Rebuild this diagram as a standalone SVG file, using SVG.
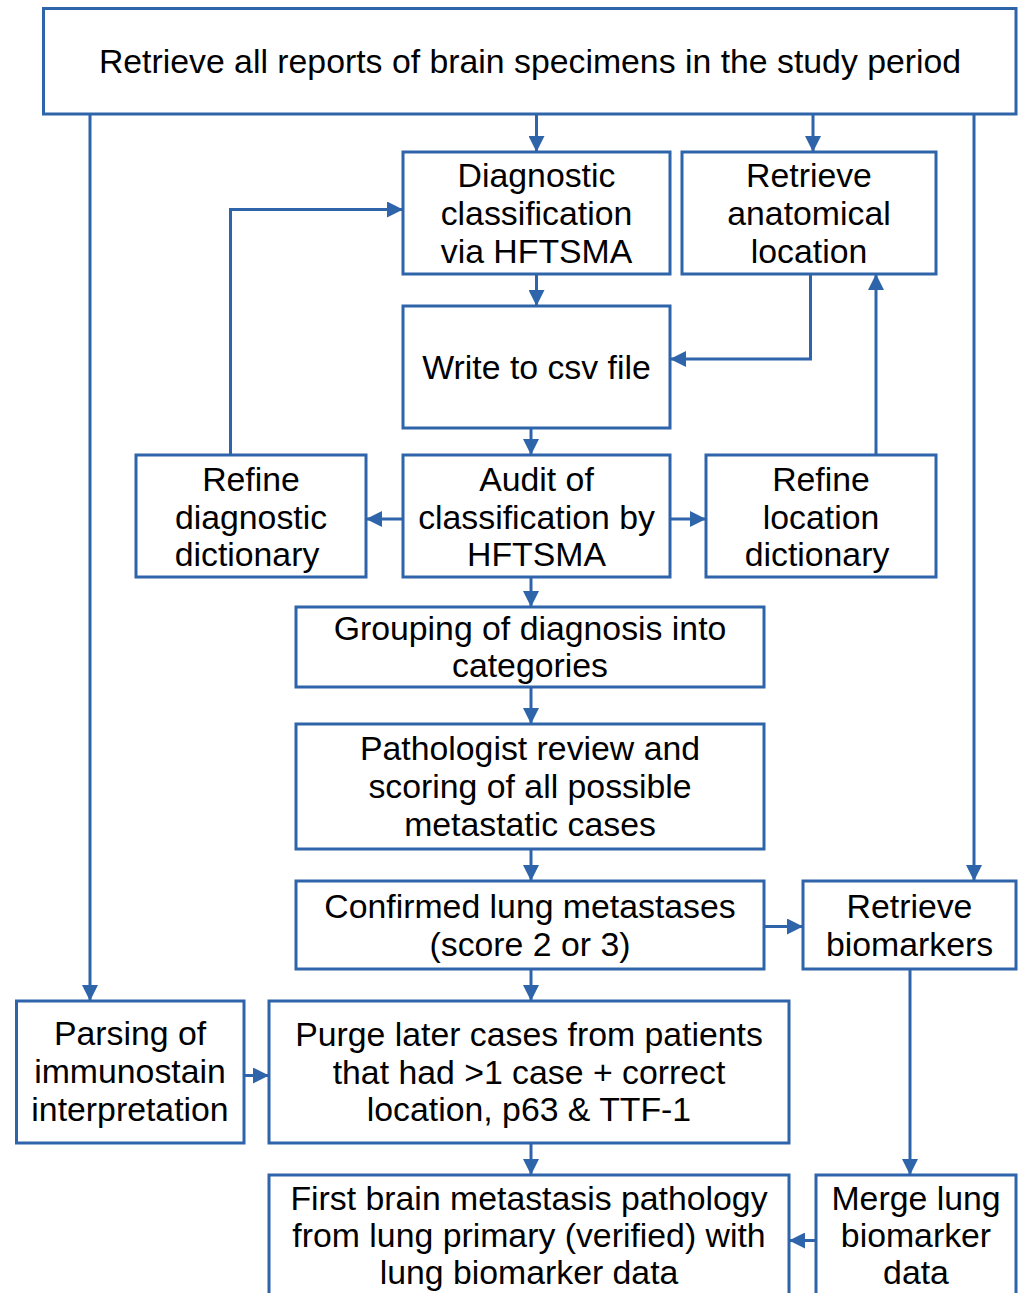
<svg xmlns="http://www.w3.org/2000/svg" width="1023" height="1293" viewBox="0 0 1023 1293">
<style>
.box{fill:#fff;stroke:#2E64AA;stroke-width:3}
.lbl{font-family:"Liberation Sans",Arial,sans-serif;font-size:33.8px;fill:#000;text-anchor:middle}
.con{fill:none;stroke:#2E64AA;stroke-width:3}
.arr{marker-end:url(#ah)}
</style>
<defs>
<marker id="ah" markerUnits="userSpaceOnUse" markerWidth="16" markerHeight="16" refX="16" refY="8" orient="auto">
<path d="M0,0 L16,8 L0,16 z" fill="#2E64AA"/>
</marker>
</defs>
<rect width="1023" height="1293" fill="#fff"/>
<g id="connectors">
<path class="con arr" d="M536.5,114 V152"/>
<path class="con arr" d="M813,114 V152"/>
<path class="con arr" d="M974,114 V881"/>
<path class="con arr" d="M90,114 V1001"/>
<path class="con arr" d="M230.5,455 V209.5 H403"/>
<path class="con arr" d="M536.5,274 V306"/>
<path class="con arr" d="M810.5,274 V359 H670"/>
<path class="con arr" d="M876,455 V274"/>
<path class="con arr" d="M531,428 V455"/>
<path class="con arr" d="M403,519 H366"/>
<path class="con arr" d="M670,519 H706"/>
<path class="con arr" d="M531,577 V607"/>
<path class="con arr" d="M531,687 V724"/>
<path class="con arr" d="M531,849 V881"/>
<path class="con arr" d="M764,926.5 H803"/>
<path class="con arr" d="M531,969 V1001"/>
<path class="con arr" d="M244,1075.5 H269"/>
<path class="con arr" d="M531,1143 V1175"/>
<path class="con arr" d="M910,969 V1175"/>
<path class="con arr" d="M816,1240.5 H789"/>
</g>
<g id="n-retrieve-all">
<rect class="box" x="43.5" y="8.5" width="972.5" height="105.5"/>
<text class="lbl" x="530" y="73">Retrieve all reports of brain specimens in the study period</text>
</g>
<g id="n-diagnostic">
<rect class="box" x="403" y="152" width="267" height="122"/>
<text class="lbl" x="536.5" y="187">Diagnostic</text>
<text class="lbl" x="536.5" y="225">classification</text>
<text class="lbl" x="536.5" y="262.5">via HFTSMA</text>
</g>
<g id="n-anatomical">
<rect class="box" x="682" y="152" width="254" height="122"/>
<text class="lbl" x="809" y="187">Retrieve</text>
<text class="lbl" x="809" y="225">anatomical</text>
<text class="lbl" x="809" y="262.5">location</text>
</g>
<g id="n-write">
<rect class="box" x="403" y="306" width="267" height="122"/>
<text class="lbl" x="536.5" y="379">Write to csv file</text>
</g>
<g id="n-refine-diag">
<rect class="box" x="136" y="455" width="230" height="122"/>
<text class="lbl" x="251" y="491">Refine</text>
<text class="lbl" x="251" y="528.5">diagnostic</text>
<text class="lbl" x="247" y="566">dictionary</text>
</g>
<g id="n-audit">
<rect class="box" x="403" y="455" width="267" height="122"/>
<text class="lbl" x="536.5" y="491">Audit of</text>
<text class="lbl" x="536.5" y="528.5">classification by</text>
<text class="lbl" x="536.5" y="566">HFTSMA</text>
</g>
<g id="n-refine-loc">
<rect class="box" x="706" y="455" width="230" height="122"/>
<text class="lbl" x="821" y="491">Refine</text>
<text class="lbl" x="821" y="528.5">location</text>
<text class="lbl" x="817" y="566">dictionary</text>
</g>
<g id="n-grouping">
<rect class="box" x="296" y="607" width="468" height="80"/>
<text class="lbl" x="530" y="640">Grouping of diagnosis into</text>
<text class="lbl" x="530" y="677">categories</text>
</g>
<g id="n-pathologist">
<rect class="box" x="296" y="724" width="468" height="125"/>
<text class="lbl" x="530" y="760">Pathologist review and</text>
<text class="lbl" x="530" y="797.5">scoring of all possible</text>
<text class="lbl" x="530" y="835.5">metastatic cases</text>
</g>
<g id="n-confirmed">
<rect class="box" x="296" y="881" width="468" height="88"/>
<text class="lbl" x="530" y="918">Confirmed lung metastases</text>
<text class="lbl" x="530" y="956">(score 2 or 3)</text>
</g>
<g id="n-biomarkers">
<rect class="box" x="803" y="881" width="213" height="88"/>
<text class="lbl" x="909.5" y="918">Retrieve</text>
<text class="lbl" x="909.5" y="956">biomarkers</text>
</g>
<g id="n-parsing">
<rect class="box" x="16.5" y="1001" width="227.5" height="142"/>
<text class="lbl" x="130" y="1045">Parsing of</text>
<text class="lbl" x="130" y="1083">immunostain</text>
<text class="lbl" x="130" y="1121">interpretation</text>
</g>
<g id="n-purge">
<rect class="box" x="269" y="1001" width="520" height="142"/>
<text class="lbl" x="529" y="1046">Purge later cases from patients</text>
<text class="lbl" x="529" y="1083.5">that had &gt;1 case + correct</text>
<text class="lbl" x="529" y="1121">location, p63 &amp; TTF-1</text>
</g>
<g id="n-first">
<rect class="box" x="269" y="1175" width="520" height="140"/>
<text class="lbl" x="529" y="1210">First brain metastasis pathology</text>
<text class="lbl" x="529" y="1247">from lung primary (verified) with</text>
<text class="lbl" x="529" y="1284">lung biomarker data</text>
</g>
<g id="n-merge">
<rect class="box" x="816" y="1175" width="200" height="140"/>
<text class="lbl" x="916" y="1210">Merge lung</text>
<text class="lbl" x="916" y="1247">biomarker</text>
<text class="lbl" x="916" y="1284">data</text>
</g>
</svg>
